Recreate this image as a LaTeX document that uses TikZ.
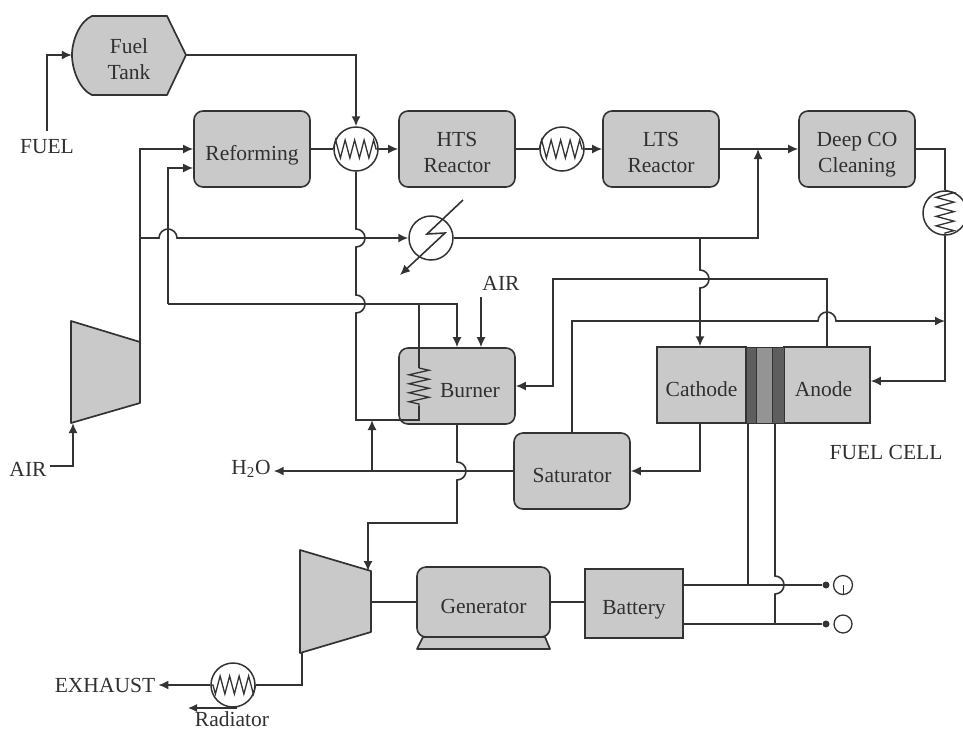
\documentclass[tikz,border=0pt]{standalone}
\usepackage{fontspec}
\setmainfont{Liberation Serif}
\usepackage{xcolor}
\usetikzlibrary{arrows.meta,decorations.pathmorphing}
\definecolor{plantgray}{HTML}{C9C9C9}
\definecolor{plantline}{HTML}{333333}
\definecolor{plantdark}{HTML}{5E5E5E}
\definecolor{plantmid}{HTML}{949494}
\definecolor{planttext}{HTML}{303030}
\newcommand{\hopup}[1]{-- ([xshift=-9pt]#1) arc[start angle=180,end angle=360,radius=9]}
\newcommand{\hopdown}[1]{-- ([yshift=9pt]#1) arc[start angle=270,end angle=450,radius=9]}

\begin{document}
\begin{tikzpicture}[
  x=1pt,y=-1pt,
  font=\fontsize{21.5}{26}\selectfont,
  text=planttext,
  unit/.style={draw=plantline,fill=plantgray,rounded corners=9pt,line width=1.6pt,minimum width=116pt,minimum height=76pt,inner sep=0pt,align=center,text height=23pt,text depth=0pt},
  twoline/.style={text height=46pt},
  cellpart/.style={draw=plantline,fill=plantgray,line width=1.5pt,minimum height=76pt,inner sep=0pt,align=center,text height=23pt,text depth=0pt},
  stripe/.style={draw=plantline,line width=1pt,minimum height=76pt,inner sep=0pt},
  machine/.style={draw=plantline,fill=plantgray,line width=1.7pt,line join=round},
  hx/.style={circle,draw=plantline,line width=1.5pt,minimum size=44pt,inner sep=0pt},
  tag/.style={inner sep=3pt},
  terminal/.style={circle,draw=plantline,line width=1.3pt,minimum size=19pt,inner sep=0pt},
  dotend/.style={circle,fill=plantline,minimum size=7pt,inner sep=0pt},
  pipe/.style={line width=1.6pt,draw=plantline},
  flow/.style={-{Latex[length=10pt,width=9pt]},line width=1.6pt,draw=plantline},
  coil/.style={line width=1.3pt,draw=plantline,decorate,decoration={zigzag,amplitude=9pt,segment length=9.5pt}}
]
  \useasboundingbox (0,0) rectangle (963,732);

  \draw[machine] (92,16) -- (167,16) -- (186,55) -- (167,95) -- (92,95) .. controls (80,90) and (72,70) .. (72,55) .. controls (72,40) and (80,21) .. cycle;
  \draw[machine] (71,321) -- (140,342) -- (140,403) -- (71,423) -- cycle;
  \draw[machine] (300,550) -- (371,571) -- (371,632) -- (300,653) -- cycle;
  \draw[machine] (423,637) -- (545,637) -- (550,649) -- (417,649) -- cycle;

  \node[align=center,minimum width=114pt,minimum height=79pt,inner sep=0pt,text height=49pt,text depth=0pt] (tank) at (129,55) {Fuel\\Tank};
  \node[unit] (reforming) at (252,149) {Reforming};
  \node[unit,twoline] (hts) at (457,149) {HTS\\Reactor};
  \node[unit,twoline] (lts) at (661,149) {LTS\\Reactor};
  \node[unit,twoline] (deep) at (857,149) {Deep CO\\Cleaning};
  \node[unit] (burner) at (457,386) {\hspace*{26pt}Burner};
  \node[unit] (saturator) at (572,471) {Saturator};
  \node[unit,minimum width=133pt,minimum height=70pt] (generator) at (483.5,602) {Generator};
  \node[cellpart,minimum width=98pt,minimum height=69pt,text height=21pt] (battery) at (634,603.5) {Battery};
  \node[cellpart,minimum width=89pt] (cathode) at (701.5,385) {Cathode};
  \node[cellpart,minimum width=86pt] (anode) at (827,385) {\hspace*{-7pt}Anode};
  \node[stripe,fill=plantmid,minimum width=16pt] (stripemid) at (764,385) {};
  \node[stripe,fill=plantdark,minimum width=10pt] (stripeleft) at (751,385) {};
  \node[stripe,fill=plantdark,minimum width=12pt] (striperight) at (778,385) {};

  \node[hx] (hxone) at (356,149) {};
  \node[hx] (hxtwo) at (562,149) {};
  \node[hx] (hxthree) at (945,213) {};
  \node[hx] (hxfour) at (233,685) {};
  \node[hx] (cooler) at (431,238) {};

  \node[tag] (fuel) at (47,147) {FUEL};
  \node[tag] (airin) at (28,469) {AIR};
  \node[tag] (airtop) at (501,283) {AIR};
  \node[tag] (water) at (251,469) {H\textsubscript{2}O};
  \node[tag] (exhaust) at (105,685) {EXHAUST};
  \node[tag] (radiator) at (232,719) {Radiator};
  \node[tag] (fuelcell) at (886,452) {FUEL CELL};

  \node[dotend] (dotplus) at (826,585) {};
  \node[dotend] (dotminus) at (826,624) {};
  \node[terminal] (termplus) at (843,585) {};
  \node[terminal,minimum size=18pt] (termminus) at (843,624) {};

  \coordinate (compout) at (140,342);
  \coordinate (compin) at (73,423);
  \coordinate (airbend) at (73,466);
  \coordinate (airdrop) at (481,297);
  \coordinate (coolerin) at (140,238);
  \coordinate (hopfeed) at (168,238);
  \coordinate (feedleft) at (168,304);
  \coordinate (hopone) at (356,238);
  \coordinate (hoptwo) at (356,304);
  \coordinate (coiljoin) at (419,304);
  \coordinate (coiltop) at (419,368);
  \coordinate (coilbot) at (419,406);
  \coordinate (coilbase) at (419,420);
  \coordinate (waterup) at (372,471);
  \coordinate (hopburner) at (457,471);
  \coordinate (burnerturn) at (457,523);
  \coordinate (turbin) at (368,571);
  \coordinate (turbout) at (371,602);
  \coordinate (turbexit) at (302,653);
  \coordinate (co) at (758,149);
  \coordinate (cobend) at (700,238);
  \coordinate (hopcathode) at (700,279);
  \coordinate (burnerbend) at (553,279);
  \coordinate (hopanode) at (827,321);
  \coordinate (satend) at (945,321);
  \coordinate (leadone) at (748,423);
  \coordinate (leadtwo) at (775,423);
  \coordinate (hopbattery) at (775,585);
  \coordinate (quenchtop) at (463,200);
  \coordinate (quenchend) at (400,275);
  \coordinate (radstart) at (237,708);
  \coordinate (radend) at (188,708);

  \draw[flow] ([yshift=6pt]fuel.north) |- (tank.west);
  \draw[flow] (tank.east) -| (hxone.north);
  \draw[pipe] (reforming.east) -- (hxone.west);
  \draw[coil] (hxone.west) -- (hxone.east);
  \draw[flow] (hxone.east) -- (hts.west);
  \draw[pipe] (hts.east) -- (hxtwo.west);
  \draw[coil] (hxtwo.west) -- (hxtwo.east);
  \draw[flow] (hxtwo.east) -- (lts.west);
  \draw[flow] (lts.east) -- (deep.west);
  \draw[pipe] (deep.east) -| (hxthree.north);
  \draw[coil] (hxthree.north) -- (hxthree.south);
  \draw[flow] (hxthree.south) |- ([yshift=4pt]anode.east);

  \draw[flow] ([yshift=3pt]airin.east) -- (airbend) -- (compin);
  \draw[flow] (compout) |- (reforming.west);
  \draw[flow] (coolerin) \hopup{hopfeed} -- (cooler.west);
  \draw[flow] (feedleft) |- ([yshift=-19pt]reforming.west);
  \draw[flow] (feedleft) -| (burner.north);
  \draw[flow] (airdrop) -- (airdrop |- burner.north);

  \draw[flow] (cooler.east) -| (co);
  \draw[flow] (cobend) \hopdown{hopcathode} -- (cathode.north -| cobend);
  \draw[flow] (anode.north) |- (burnerbend) |- (burner.east);
  \draw[flow] (saturator.north) -- (saturator.north |- hopanode) \hopup{hopanode} -- (satend);
  \draw[flow] (cathode.south -| cobend) |- (saturator.east);
  \draw[flow] (saturator.west) -- (saturator.west -| water.east);
  \draw[flow] (waterup) -- (waterup |- coilbase);

  \draw[pipe] (hxone.south) \hopdown{hopone} \hopdown{hoptwo} -- (coilbase -| hxone.south) -- (coilbase) -- (coilbot);
  \draw[pipe] (coiljoin) -- (coiltop);
  \draw[coil,decoration={amplitude=10pt,segment length=9pt}] (coiltop) -- (coilbot);

  \draw[flow] (burner.south) \hopdown{hopburner} -- (burnerturn) -| (turbin);
  \draw[pipe] (turbout) -- (generator.west);
  \draw[pipe] (generator.east) -- (generator.east -| battery.west);
  \draw[pipe] (turbexit) |- (hxfour.east);
  \draw[coil] (hxfour.east) -- (hxfour.west);
  \draw[flow] (hxfour.west) -- (exhaust.east);
  \draw[-{Latex[length=9pt,width=8pt]},line width=1.3pt,draw=plantline] (radstart) -- (radend);

  \draw[flow] (quenchtop) -- (427,234) -- (445,233) -- (quenchend);

  \draw[pipe] (dotplus -| battery.east) -- (dotplus);
  \draw[pipe] (dotminus -| battery.east) -- (dotminus);
  \draw[pipe] (leadone) -- (leadone |- dotplus);
  \draw[pipe] (leadtwo) \hopdown{hopbattery} -- (leadtwo |- dotminus);
  \draw[line width=1pt,draw=plantline] (termplus.center) -- (termplus.south);
\end{tikzpicture}
\end{document}
